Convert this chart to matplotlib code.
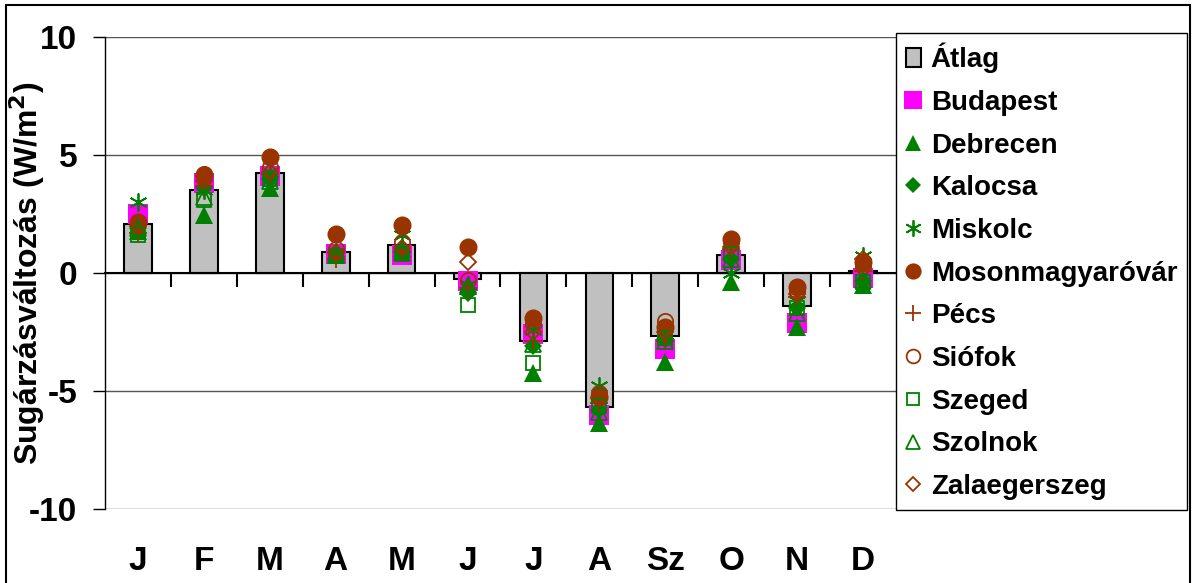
import matplotlib
matplotlib.use("Agg")
import matplotlib.pyplot as plt
from matplotlib.patches import Rectangle
from matplotlib.ticker import FixedLocator, NullLocator
import numpy as np

plt.rcParams['font.family'] = ['Liberation Sans', 'DejaVu Sans']
plt.rcParams['font.weight'] = 'bold'
plt.rcParams['axes.unicode_minus'] = False

# Adatok (hónapok és állomások)
honapok = ['J', 'F', 'M', 'A', 'M', 'J', 'J', 'A', 'Sz', 'O', 'N', 'D']
atlag = [2.08, 3.5, 4.22, 0.9, 1.17, -0.27, -2.87, -5.66, -2.67, 0.78, -1.39, 0.08]

budapest = [2.5, 3.8, 4.1, 0.8, 0.75, -0.35, -2.6, -6.0, -3.2, 0.55, -2.1, -0.2]
debrecen = [1.8, 2.45, 3.6, 0.75, 0.9, -0.55, -4.25, -6.35, -3.75, -0.4, -2.3, -0.5]
kalocsa = [1.9, 3.6, 4.0, 0.9, 0.95, -0.85, -3.1, -5.8, -2.8, 0.6, -1.5, -0.35]
miskolc = [3.0, 3.5, 4.3, 0.9, 1.6, -0.5, -2.4, -4.8, -2.6, 0.0, -1.2, 0.7]
mosonmagyarovar = [2.15, 4.15, 4.9, 1.65, 2.05, 1.1, -1.9, -5.25, -2.3, 1.45, -0.6, 0.45]
pecs = [1.7, 3.7, 4.2, 0.6, 0.9, -0.65, -2.9, -5.5, -2.9, 1.0, -1.0, 0.1]
siofok = [2.1, 4.2, 4.5, 1.0, 1.3, -0.3, -2.15, -5.1, -2.05, 1.3, -0.75, 0.3]
szeged = [1.6, 3.1, 4.0, 0.7, 0.8, -1.35, -3.8, -5.65, -2.75, 0.8, -1.5, -0.4]
szolnok = [1.9, 3.2, 3.9, 0.8, 1.0, -0.5, -3.0, -5.9, -2.9, 0.6, -1.7, -0.3]
zalaegerszeg = [2.0, 3.9, 4.3, 0.85, 1.05, 0.45, -2.5, -5.3, -2.5, 1.1, -0.9, 0.6]

BARNA = '#993300'
ZOLD = '#008000'
LILA = '#FF00FF'

# (név, adatok, marker, kitöltés, szín, méret)
allomasok = [
    ('Budapest', budapest, 's', LILA, LILA, 14),
    ('Debrecen', debrecen, '^', ZOLD, ZOLD, 13),
    ('Kalocsa', kalocsa, 'D', ZOLD, ZOLD, 9),
    ('Miskolc', miskolc, (6, 2, 0), ZOLD, ZOLD, 13),
    ('Mosonmagyaróvár', mosonmagyarovar, 'o', BARNA, BARNA, 13),
    ('Pécs', pecs, '+', BARNA, BARNA, 13),
    ('Siófok', siofok, 'o', 'none', BARNA, 11),
    ('Szeged', szeged, 's', 'none', ZOLD, 10),
    ('Szolnok', szolnok, '^', 'none', ZOLD, 11),
    ('Zalaegerszeg', zalaegerszeg, 'D', 'none', BARNA, 8),
]

fig = plt.figure(figsize=(11.95, 5.83), dpi=100)
ax = fig.add_axes([105 / 1195, 1 - 509 / 583, 791 / 1195, 472 / 583])

x = np.arange(len(honapok))
bars = ax.bar(x, atlag, width=0.42, color='#C0C0C0', edgecolor='black',
              linewidth=1.5, zorder=2, label='Átlag')

handles = [bars]
for nev, adat, marker, face, szin, ms in allomasok:
    kitoltott = face != 'none'
    h, = ax.plot(x, adat, linestyle='none', marker=marker, markersize=ms,
                 markerfacecolor=face, markeredgecolor=szin,
                 markeredgewidth=0 if (kitoltott and marker in ('s', 'o', '^', 'D')) else 1.3,
                 zorder=3, label=nev)
    handles.append(h)

ax.set_xlim(-0.5, 11.5)
ax.set_ylim(-10, 10)
ax.set_yticks([-10, -5, 0, 5, 10])
ax.yaxis.grid(True, color='#555555', linewidth=1)
ax.set_axisbelow(True)
ax.tick_params(axis='y', direction='out', length=9, width=1, labelsize=24, pad=11)

for s in ['top', 'right']:
    ax.spines[s].set_visible(False)
ax.spines['left'].set_linewidth(1)
ax.spines['bottom'].set_position(('data', 0))
ax.spines['bottom'].set_linewidth(1.5)
ax.spines['bottom'].set_zorder(2.5)

ax.xaxis.set_major_locator(NullLocator())
ax.xaxis.set_minor_locator(FixedLocator(np.arange(0.5, 11.5, 1)))
ax.tick_params(axis='x', which='minor', direction='out', length=10, width=1.5)

sec = ax.secondary_xaxis('bottom')
sec.set_xticks(x, honapok)
sec.tick_params(length=0, pad=27, labelsize=24)
sec.spines['bottom'].set_visible(False)

ax.set_ylabel('Sugárzásváltozás (W/m$^\\mathbf{2}$)', fontsize=23, fontweight='bold')
ax.yaxis.set_label_coords(-0.073, 0.5)

fig.legend(handles=handles, loc='upper left',
           bbox_to_anchor=(896 / 1195, 1 - 33 / 583), borderaxespad=0,
           prop={'size': 20, 'weight': 'bold'}, frameon=True, fancybox=False,
           edgecolor='black', framealpha=1, borderpad=0.35, labelspacing=0.6,
           handlelength=0.55, handletextpad=0.35, markerscale=0.9)

fig.add_artist(Rectangle((6 / 1195, -0.05), 1184 / 1195, 1 - 5 / 583 + 0.05,
                         transform=fig.transFigure, fill=False,
                         edgecolor='black', linewidth=1.5))

fig.savefig('out.png', dpi=100)
plt.close(fig)
